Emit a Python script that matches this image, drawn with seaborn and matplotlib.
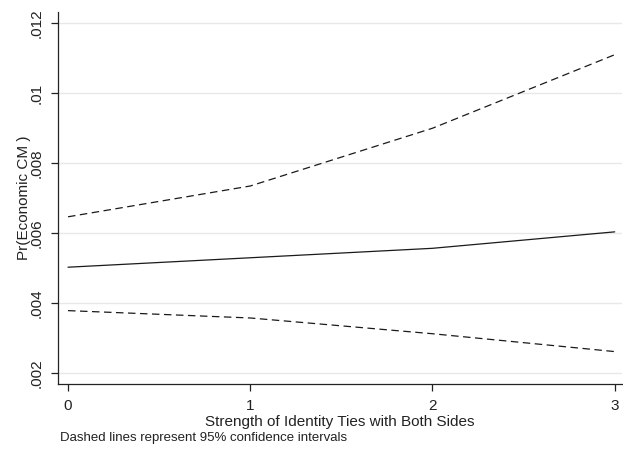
import matplotlib
matplotlib.use("Agg")
import matplotlib.pyplot as plt
import numpy as np
import pandas as pd
import seaborn as sns

# Predicted probability of an economic CM and its 95% confidence band
ties = [0, 1, 2, 3]
pr_mean = [0.00503, 0.00530, 0.00557, 0.00604]
pr_upper = [0.00647, 0.00735, 0.00900, 0.01110]
pr_lower = [0.00379, 0.00358, 0.00313, 0.00262]

y_ticks = [0.002, 0.004, 0.006, 0.008, 0.010, 0.012]
y_tick_labels = [".002", ".004", ".006", ".008", ".01", ".012"]
x_tick_labels = ["0", "1", "2", "3"]

sns.set_theme(style="white")
plt.rcParams["font.family"] = ["Liberation Sans", "DejaVu Sans"]

W, H = 623, 449
fig = plt.figure(figsize=(W / 100, H / 100), dpi=100, facecolor="white")
ax = fig.add_axes([58 / W, (H - 384) / H, (622 - 58) / W, (384 - 12) / H])
ax.set_facecolor("white")

df = pd.DataFrame({"ties": ties, "mean": pr_mean, "upper": pr_upper, "lower": pr_lower})

line_color = "#1a1a1a"
sns.lineplot(data=df, x="ties", y="mean", ax=ax, color=line_color, lw=0.9)
for col in ["upper", "lower"]:
    sns.lineplot(data=df, x="ties", y=col, ax=ax, color=line_color, lw=0.9,
                 dashes=False, linestyle=(0, (6.0, 3.6)))

ax.set_xlim(-0.055, 3.04)
ax.set_ylim(0.001694, 0.01232)

ax.set_yticks(y_ticks)
ax.set_yticklabels(y_tick_labels, rotation=90, va="center")
ax.set_xticks(ties)
ax.set_xticklabels(x_tick_labels)

ax.grid(axis="y", color="#e8e8e8", lw=1.0)
ax.grid(axis="x", visible=False)
ax.set_axisbelow(True)

for side in ["top", "right"]:
    ax.spines[side].set_visible(False)
for side in ["left", "bottom"]:
    ax.spines[side].set_color("#222222")
    ax.spines[side].set_linewidth(0.9)

ax.tick_params(axis="both", which="major", direction="out", length=5, width=0.9,
               color="#222222", labelsize=11, labelcolor="#222222",
               bottom=True, left=True)
ax.tick_params(axis="x", pad=6)
ax.tick_params(axis="y", pad=5)

ax.set_xlabel("Strength of Identity Ties with Both Sides", fontsize=11, color="#222222", labelpad=1)
ax.set_ylabel("Pr(Economic CM )", fontsize=11, color="#222222")
ax.yaxis.set_label_coords(-0.048, 0.5)

fig.text(60 / W, (H - 438) / H, "Dashed lines represent 95% confidence intervals",
         fontsize=9.5, color="#222222", ha="left", va="center")

fig.savefig("out.png", dpi=100, facecolor="white")
